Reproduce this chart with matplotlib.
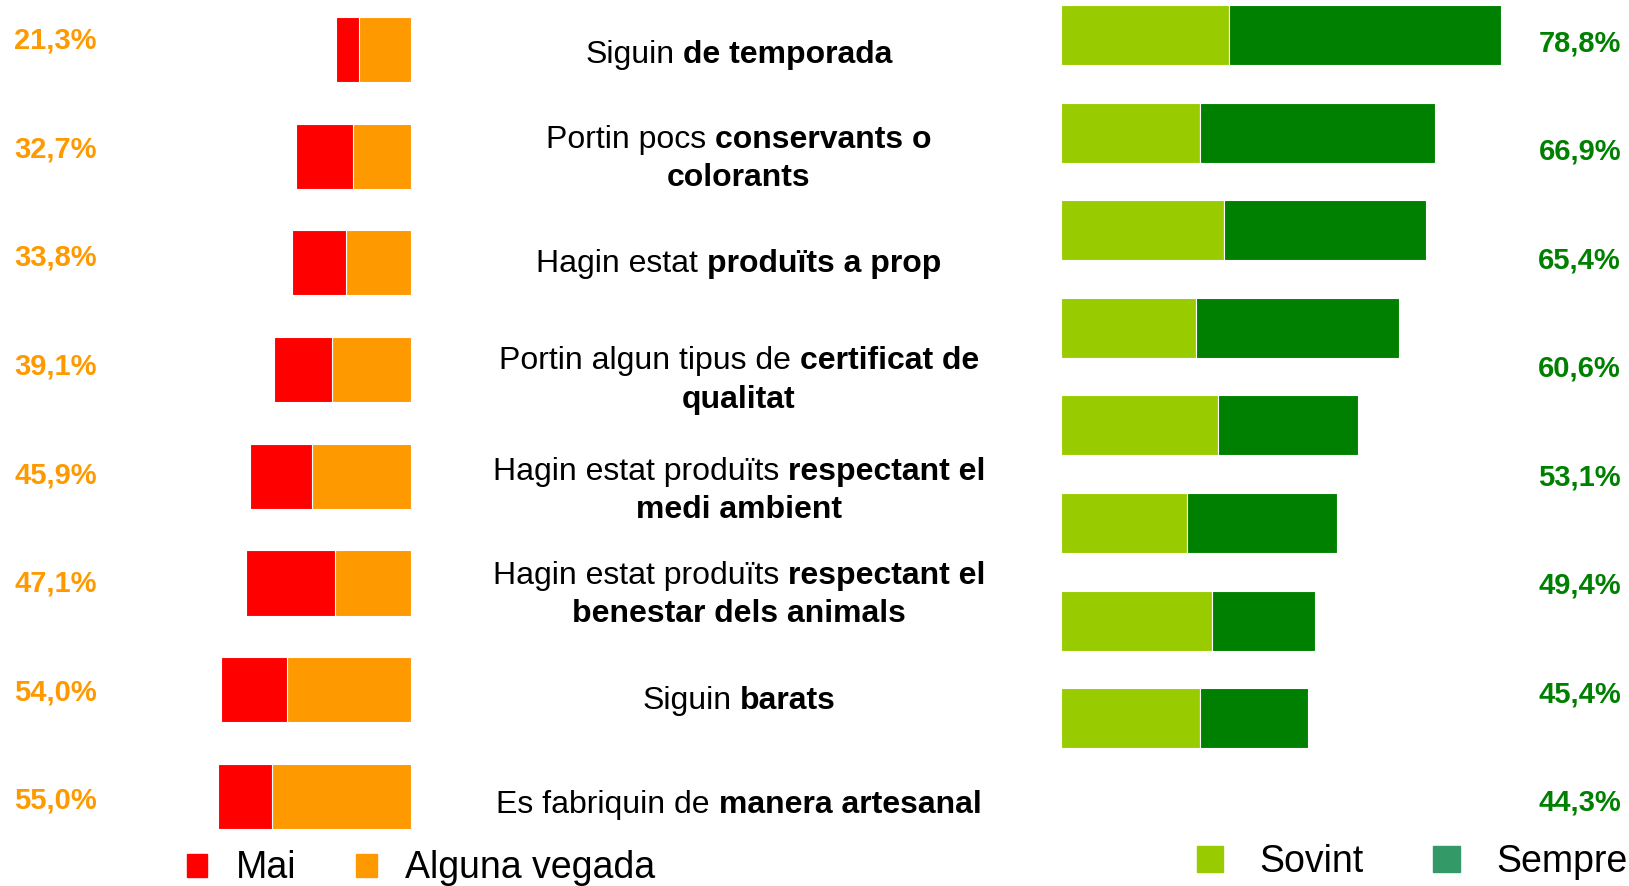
import matplotlib
matplotlib.use("Agg")
import matplotlib.pyplot as plt
import matplotlib.transforms as mtransforms
from matplotlib.offsetbox import TextArea, HPacker, VPacker, AnnotationBbox
from matplotlib.patches import Patch
import numpy as np

plt.rcParams["font.family"] = ["Liberation Sans", "DejaVu Sans"]

# each label is a list of lines, a line is a list of (text, bold) pieces
labels = [
    [[("Siguin", False), ("de temporada", True)]],
    [[("Portin pocs", False), ("conservants o", True)], [("colorants", True)]],
    [[("Hagin estat", False), ("produïts a prop", True)]],
    [[("Portin algun tipus de", False), ("certificat de", True)], [("qualitat", True)]],
    [[("Hagin estat produïts", False), ("respectant el", True)], [("medi ambient", True)]],
    [[("Hagin estat produïts", False), ("respectant el", True)],
     [("benestar dels animals", True)]],
    [[("Siguin", False), ("barats", True)]],
    [[("Es fabriquin de", False), ("manera artesanal", True)]],
]

mai = [6.5, 16.3, 15.3, 16.6, 17.7, 25.6, 18.8, 15.5]
alguna = [14.8, 16.4, 18.5, 22.5, 28.2, 21.5, 35.2, 39.5]
sovint = [30.1, 24.8, 29.1, 24.2, 28.1, 22.5, 27.0, 24.8]
sempre = [48.7, 42.1, 36.3, 36.4, 25.0, 26.9, 18.4, 19.5]

RED = "#FF0000"
ORANGE = "#FF9900"
LIGHT = "#99CC00"
DARK = "#008000"
SEMPRE_KEY = "#339966"

W, H = 1629, 886
ROW_PX = 106.7  # pixel height of one row on the left block

# layout: vertical nudges (pixels) of the text in each row
label_dy = [5.5, 3, 1, 11, 15, 12, 11.5, 8.5]
pct_left_px = np.linspace(40.5, 801, 8)
pct_right_px = np.linspace(43, 803, 8)

fig = plt.figure(figsize=(W / 100, H / 100), dpi=100)

y = np.arange(len(labels))

# left block: "mai" + "alguna vegada", growing to the left
ax_l = fig.add_axes([0, 0, 411 / W, 1])
ax_l.barh(y, alguna, height=0.61, color=ORANGE, edgecolor="white", linewidth=0.8)
ax_l.barh(y, mai, left=alguna, height=0.61, color=RED, edgecolor="white", linewidth=0.8)
ax_l.set_xlim(117.0, 0)
ax_l.set_ylim(7.840, -0.464)
ax_l.axis("off")

# right block: "sovint" + "sempre"
ax_r = fig.add_axes([1061 / W, 0, 568 / W, 1])
ax_r.barh(y, sovint, height=0.615, color=LIGHT, edgecolor="white", linewidth=0.8)
ax_r.barh(y, sempre, left=sovint, height=0.615, color=DARK, edgecolor="white", linewidth=0.8)
ax_r.set_xlim(0, 101.7)
ax_r.set_ylim(8.719, -0.3586)
ax_r.axis("off")

row = mtransforms.blended_transform_factory(fig.transFigure, ax_l.transData)


def pct(v):
    return f"{v:.1f}".replace(".", ",") + "%"


def px_to_row(p):
    return (p - 49.5) / ROW_PX


for i in y:
    ax_l.text(14.3 / W, px_to_row(pct_left_px[i]), pct(mai[i] + alguna[i]), transform=row,
              ha="left", va="center", fontsize=21, fontweight="bold", color=ORANGE)
    ax_l.text(1621 / W, px_to_row(pct_right_px[i]), pct(sovint[i] + sempre[i]), transform=row,
              ha="right", va="center", fontsize=21, fontweight="bold", color=DARK,
              clip_on=False)

    lines = []
    for line in labels[i]:
        parts = [TextArea(t, textprops=dict(fontsize=23, color="black",
                                            fontweight="bold" if b else "normal"))
                 for t, b in line]
        lines.append(HPacker(children=parts, sep=6.4, pad=0, align="baseline"))
    box = VPacker(children=lines, sep=5.9, pad=0, align="center")
    ab = AnnotationBbox(box, (739 / W, i + label_dy[i] / ROW_PX), xycoords=row,
                        box_alignment=(0.5, 0.5), frameon=False, pad=0,
                        annotation_clip=False)
    ax_l.add_artist(ab)

fig.legend(handles=[Patch(color=RED, label="Mai"), Patch(color=ORANGE, label="Alguna vegada")],
           loc="center left", bbox_to_anchor=(186.7 / W, 1 - 868.5 / H), ncol=2,
           frameon=False, fontsize=27, handlelength=0.55, handleheight=0.55,
           handletextpad=0.75, columnspacing=1.6, borderpad=0, borderaxespad=0)
fig.legend(handles=[Patch(color=LIGHT, label="Sovint"), Patch(color=SEMPRE_KEY, label="Sempre")],
           loc="center left", bbox_to_anchor=(1196.7 / W, 1 - 862 / H), ncol=2,
           frameon=False, fontsize=27, handlelength=0.7, handleheight=0.7,
           handletextpad=0.98, columnspacing=1.85, borderpad=0, borderaxespad=0)

fig.savefig("out.png", dpi=100)
